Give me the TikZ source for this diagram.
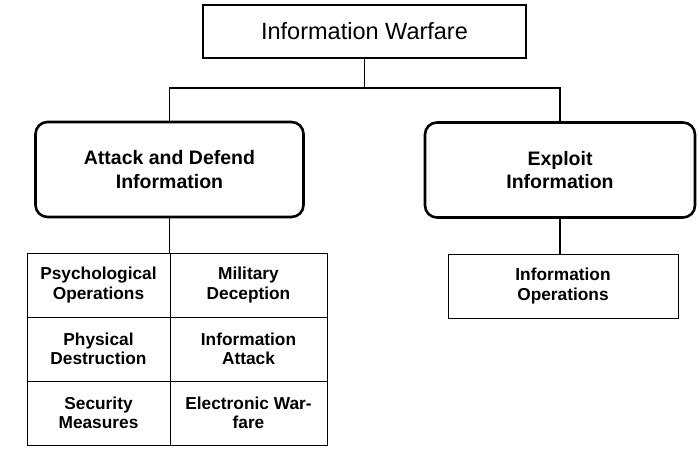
\documentclass[tikz,border=0pt]{standalone}
\usepackage{fontspec}
\setmainfont{Liberation Sans}
\usetikzlibrary{positioning}
\tikzset{
  topbox/.style={draw,line width=1.6pt,minimum width=323pt,minimum height=53pt,
    font=\fontsize{23.5}{28}\selectfont},
  groupbox/.style={draw,line width=2.6pt,rounded corners=12pt,align=center,
    minimum height=95pt,font=\fontsize{19.5}{23.7}\selectfont\bfseries},
  cellbox/.style={draw,line width=1pt,outer sep=0pt,align=center,minimum height=64pt,
    font=\fontsize{17.3}{19.5}\selectfont\bfseries},
  link/.style={line width=1.5pt}
}
\begin{document}
\begin{tikzpicture}[x=1pt,y=-1pt]
\useasboundingbox (0,0) rectangle (699,450);
% Top of the tree
\node[topbox] (warfare) at (364.5,31.5) {Information Warfare};
\coordinate (split) at (364.5,88);
% The two branches
\node[groupbox,minimum width=268pt] (attack) at (169.5,169.5) {Attack and Defend\\Information};
\node[groupbox,minimum width=270pt] (exploit) at (560,170) {Exploit\\Information};
% Grid of activities under attack and defend
\node[cellbox,minimum width=143pt] (psyops) at (98.5,285) {Psychological\\Operations};
\node[cellbox,minimum width=157pt,right=0pt of psyops] (deception) {Military\\Deception};
\node[cellbox,minimum width=143pt,below=0pt of psyops] (destruction) {Physical\\Destruction};
\node[cellbox,minimum width=157pt,below=0pt of deception] (infoattack) {Information\\Attack};
\node[cellbox,minimum width=143pt,below=0pt of destruction] (security) {Security\\Measures};
\node[cellbox,minimum width=157pt,below=0pt of infoattack] (ewar) {Electronic War-\\fare};
% Box under exploit
\node[cellbox,minimum width=230pt] (infoops) at (563,286) {Information\\Operations};
% Connectors
\draw[link] (warfare.south) -- (split);
\draw[link] (attack.north) |- (split) -| (exploit.north);
\draw[link] (attack.south) -- (attack.south |- psyops.north);
\draw[link] (exploit.south) -- (exploit.south |- infoops.north);
\end{tikzpicture}
\end{document}
